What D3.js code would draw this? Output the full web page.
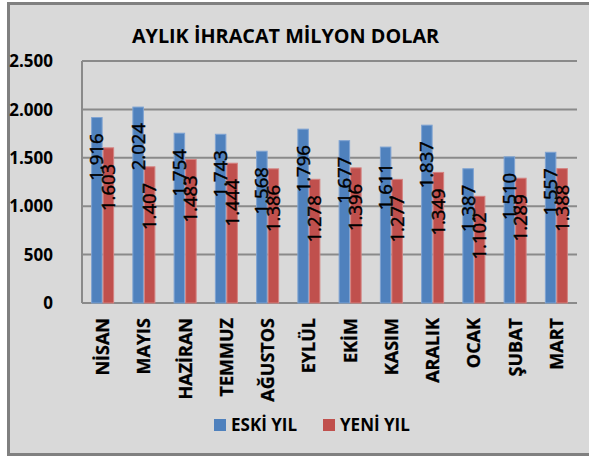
<!DOCTYPE html>
<html>
<head>
<meta charset="utf-8">
<script src="https://cdn.jsdelivr.net/npm/d3@7"></script>
<style>
  html, body { margin: 0; padding: 0; background: #ffffff; }
  svg { display: block; }
</style>
</head>
<body>
<svg id="chart" width="589" height="457"></svg>
<script>
const categories = ["NİSAN", "MAYIS", "HAZİRAN", "TEMMUZ", "AĞUSTOS", "EYLÜL", "EKİM", "KASIM", "ARALIK", "OCAK", "ŞUBAT", "MART"];
const eskiYil = [1916, 2024, 1754, 1743, 1568, 1796, 1677, 1611, 1837, 1387, 1510, 1557];
const yeniYil = [1603, 1407, 1483, 1444, 1386, 1278, 1396, 1277, 1349, 1102, 1289, 1388];
const seriesNames = ["ESKİ YIL", "YENİ YIL"];
const yTicks = [0, 500, 1000, 1500, 2000, 2500];
const title = "AYLIK İHRACAT MİLYON DOLAR";

const colors = ["#4f81bd", "#c0504d"];
const strokeColors = ["#7fa3d2", "#d48280"];
const font = "'Open Sans', sans-serif";
const fmt = v => d3.format(",")(v).replace(/,/g, ".");

const svg = d3.select("#chart");

// chart background + border
svg.append("rect")
  .attr("x", 8.5).attr("y", 3.5)
  .attr("width", 620).attr("height", 451)
  .attr("fill", "#d9d9d9")
  .attr("stroke", "#808080").attr("stroke-width", 3);

const plot = { left: 82, right: 577, top: 61, bottom: 303 };

const x0 = d3.scaleBand()
  .domain(categories)
  .range([plot.left, plot.right])
  .paddingInner(0.4424)
  .paddingOuter(0.2212);

const x1 = d3.scaleBand()
  .domain(seriesNames)
  .range([0, x0.bandwidth()]);

const y = d3.scaleLinear()
  .domain([0, 2500])
  .range([plot.bottom, plot.top]);

// gridlines
svg.append("g")
  .selectAll("line")
  .data(yTicks)
  .join("line")
  .attr("x1", plot.left).attr("x2", plot.right)
  .attr("y1", d => y(d)).attr("y2", d => y(d))
  .attr("stroke", "#8a8a8a").attr("stroke-width", 2);

// left axis line
svg.append("line")
  .attr("x1", plot.left).attr("x2", plot.left)
  .attr("y1", y(0)).attr("y2", y(2500))
  .attr("stroke", "#8a8a8a").attr("stroke-width", 2);

// y tick labels
svg.append("g")
  .selectAll("text")
  .data(yTicks)
  .join("text")
  .attr("x", 53)
  .attr("y", d => y(d))
  .attr("dy", "0.36em")
  .attr("text-anchor", "end")
  .attr("font-family", font)
  .attr("font-weight", "bold")
  .attr("font-size", 17)
  .attr("fill", "#000")
  .text(d => fmt(d));

// bars
const data = categories.map((c, i) => ({ cat: c, vals: [eskiYil[i], yeniYil[i]] }));

const groups = svg.append("g")
  .selectAll("g")
  .data(data)
  .join("g")
  .attr("transform", d => `translate(${x0(d.cat)},0)`);

groups.selectAll("rect")
  .data(d => d.vals.map((v, j) => ({ v, j })))
  .join("rect")
  .attr("x", d => x1(seriesNames[d.j]) + 0.5)
  .attr("y", d => y(d.v))
  .attr("width", x1.bandwidth() - 1)
  .attr("height", d => y(0) - y(d.v))
  .attr("fill", d => colors[d.j])
  .attr("stroke", d => strokeColors[d.j])
  .attr("stroke-width", 1);

// data labels
groups.selectAll("text")
  .data(d => d.vals.map((v, j) => ({ v, j })))
  .join("text")
  .attr("transform", d => `translate(${x1(seriesNames[d.j]) + x1.bandwidth() / 2},${y(d.v) + 16}) rotate(-90)`)
  .attr("dy", "0.35em")
  .attr("text-anchor", "end")
  .attr("font-family", font)
  .attr("font-size", 18.5)
  .attr("fill", "#000")
  .attr("stroke", "#000")
  .attr("stroke-width", 0.45)
  .text(d => fmt(d.v));

// category labels
svg.append("g")
  .selectAll("text")
  .data(categories)
  .join("text")
  .attr("transform", d => `translate(${x0(d) + x0.bandwidth() / 2},318) rotate(-90)`)
  .attr("dy", "0.36em")
  .attr("text-anchor", "end")
  .attr("font-family", font)
  .attr("font-weight", "bold")
  .attr("font-size", 18)
  .attr("fill", "#000")
  .attr("stroke", "#000")
  .attr("stroke-width", 0.3)
  .text(d => d);

// title
svg.append("text")
  .attr("x", 285.5)
  .attr("y", 43)
  .attr("text-anchor", "middle")
  .attr("font-family", font)
  .attr("font-weight", "bold")
  .attr("font-size", 19.8)
  .attr("fill", "#000")
  .text(title);

// legend
const legendItems = [
  { name: seriesNames[0], color: colors[0], x: 214 },
  { name: seriesNames[1], color: colors[1], x: 323 }
];
const lg = svg.append("g")
  .selectAll("g")
  .data(legendItems)
  .join("g")
  .attr("transform", d => `translate(${d.x},425)`);
lg.append("rect")
  .attr("x", 0).attr("y", -6)
  .attr("width", 12).attr("height", 12)
  .attr("fill", d => d.color);
lg.append("text")
  .attr("x", 17)
  .attr("dy", "0.36em")
  .attr("font-family", font)
  .attr("font-weight", "bold")
  .attr("font-size", 17)
  .attr("fill", "#000")
  .text(d => d.name);
</script>
</body>
</html>
